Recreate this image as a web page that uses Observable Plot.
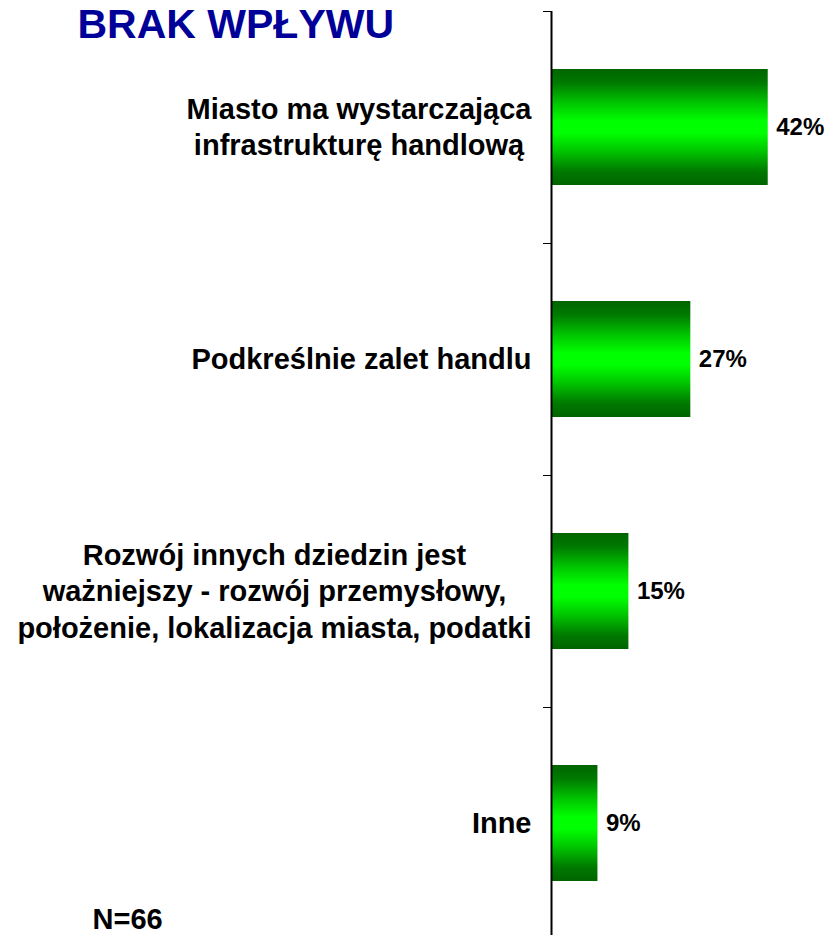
<!DOCTYPE html>
<html>
<head>
<meta charset="utf-8">
<script src="https://cdn.jsdelivr.net/npm/d3@7"></script>
<script src="https://cdn.jsdelivr.net/npm/@observablehq/plot@0.6"></script>
<style>
  html, body { margin: 0; padding: 0; background: #fff; overflow: hidden; }
</style>
</head>
<body>
<div id="chart"></div>
<script>
const title = "BRAK WPŁYWU";
const note = "N=66";
const categories = [
  "Miasto ma wystarczająca\ninfrastrukturę handlową",
  "Podkreślnie zalet handlu",
  "Rozwój innych dziedzin jest\nważniejszy - rozwój przemysłowy,\npołożenie, lokalizacja miasta, podatki",
  "Inne"
];
const values = [42, 27, 15, 9];
const bandEdges = [0, 1, 2, 3, 4];

const data = categories.map((c, i) => ({category: c, value: values[i], i}));

const FONT = "'Liberation Sans', Arial, sans-serif";
const labelSize = 29;
const ctx = document.createElement("canvas").getContext("2d");
ctx.font = `bold ${labelSize}px ${FONT}`;
const blockWidth = s => d3.max(s.split("\n"), l => ctx.measureText(l).width);

const gradientDefs = () => {
  const g = d3.create("svg:g");
  const lg = g.append("defs").append("linearGradient")
    .attr("id", "barGrad").attr("x1", 0).attr("y1", 0).attr("x2", 0).attr("y2", 1);
  [[0, "#006400"], [0.12, "#007a00"], [0.3, "#00c800"], [0.45, "#00ff00"],
   [0.55, "#00ff00"], [0.7, "#00c800"], [0.88, "#007a00"], [1, "#006400"]]
    .forEach(([o, c]) => lg.append("stop").attr("offset", o).attr("stop-color", c));
  return g.node();
};

const labelMarks = data.map(d => Plot.text([d], {
  x: () => 0,
  y: r => r.i + 0.5,
  text: "category",
  textAnchor: "middle",
  lineAnchor: "middle",
  lineHeight: 1.26,
  dx: -(20 + blockWidth(d.category) / 2),
  dy: -2,
  fontSize: labelSize,
  fontWeight: "bold",
  fontFamily: FONT,
  fill: "black"
}));

const chart = Plot.plot({
  width: 826,
  height: 935,
  marginLeft: 551,
  marginRight: 17,
  marginTop: 11,
  marginBottom: -4,
  style: {background: "#fff", overflow: "visible", fontFamily: FONT, color: "black"},
  x: {domain: [0, 50], axis: null},
  y: {domain: [0, 4], range: [11, 939], ticks: bandEdges, tickSize: 8, tickFormat: () => "", label: null},
  marks: [
    gradientDefs,
    Plot.rectX(data, {
      x1: () => 0,
      x2: "value",
      y1: d => d.i + 0.25,
      y2: d => d.i + 0.75,
      fill: "url(#barGrad)"
    }),
    Plot.text(data, {
      x: "value",
      y: d => d.i + 0.5,
      text: d => `${d.value}%`,
      textAnchor: "start",
      dx: 8,
      fontSize: 24,
      fontWeight: "bold",
      fontFamily: FONT,
      fill: "black"
    }),
    ...labelMarks,
    Plot.ruleX([0], {stroke: "black", strokeWidth: 2}),
    Plot.text([title], {
      frameAnchor: "top-left",
      textAnchor: "start",
      lineAnchor: "bottom",
      dx: 77 - 551,
      dy: 37 - 11,
      fontSize: 41,
      fontWeight: "bold",
      fontFamily: FONT,
      fill: "#000099"
    }),
    Plot.text([note], {
      frameAnchor: "bottom-left",
      textAnchor: "start",
      lineAnchor: "bottom",
      dx: 92 - 551,
      dy: 928 - 939,
      fontSize: 29,
      fontWeight: "bold",
      fontFamily: FONT,
      fill: "black"
    })
  ]
});
document.getElementById("chart").appendChild(chart);
</script>
</body>
</html>
